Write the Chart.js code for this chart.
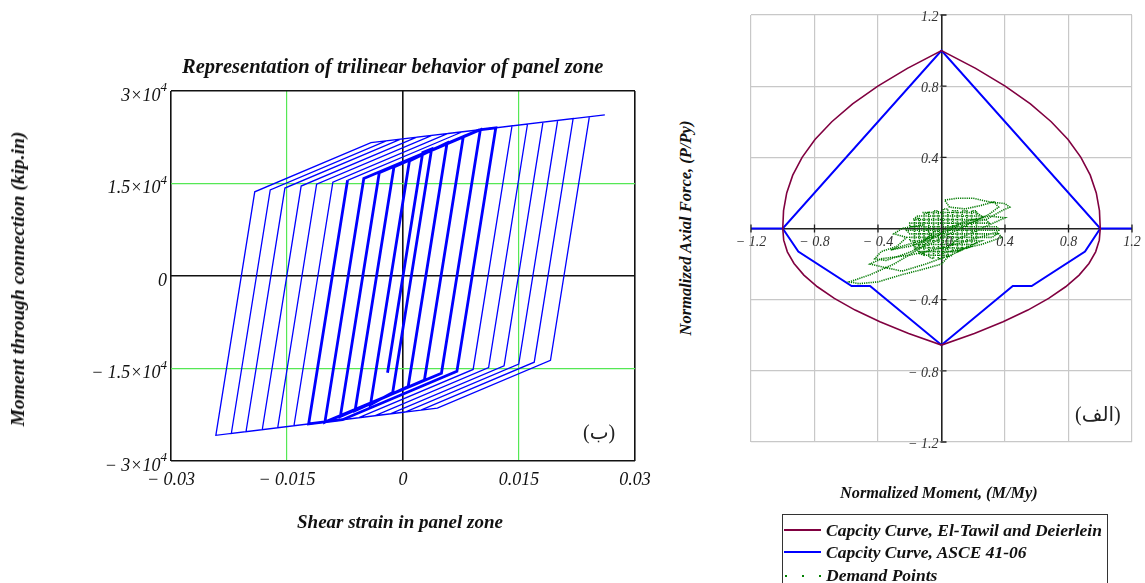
<!DOCTYPE html>
<html>
<head>
<meta charset="utf-8">
<script src="https://cdn.jsdelivr.net/npm/chart.js@4.4.0/dist/chart.umd.min.js"></script>
<style>
  body { margin: 0; background: #fff; width: 1145px; height: 583px; overflow: hidden; position: relative; font-family: "Liberation Serif", "DejaVu Serif", serif; }
  canvas { position: absolute; top: 0; }
  #left { left: 0; }
  #right { left: 700px; }
  .t { position: absolute; white-space: nowrap; font-style: italic; font-weight: bold; color: #111; }
  .rot { transform: translate(-50%, -50%) rotate(-90deg); }
  .mark { position: absolute; font-size: 20px; font-family: "Liberation Serif", "DejaVu Sans", serif; color: #222; }
  #legend { position: absolute; left: 782px; top: 514px; width: 324px; height: 80px; border: 1px solid #333; }
  .row { position: absolute; left: 0; height: 20px; }
  .sample { position: absolute; left: 1px; width: 37px; top: 9px; height: 2px; }
  .lab { position: absolute; left: 43px; top: 0; font-size: 17.5px; line-height: 20px; font-style: italic; font-weight: bold; white-space: nowrap; color: #111; }
  .dot { position: absolute; width: 2px; height: 2px; background: #008000; top: 10px; }
</style>
</head>
<body>
<canvas id="left" width="660" height="583"></canvas>
<canvas id="right" width="445" height="583"></canvas>

<div class="t" style="left:182px;top:54px;font-size:20.5px;line-height:24px;">Representation of trilinear behavior of panel zone</div>
<div class="t rot" style="left:18px;top:279px;font-size:19.5px;line-height:22px;">Moment through connection (kip.in)</div>
<div class="t" style="left:297px;top:511px;font-size:19px;line-height:22px;">Shear strain in panel zone</div>
<div class="mark" style="left:583px;top:420px;">(ب)</div>

<div class="t rot" style="left:686px;top:228px;font-size:16.5px;line-height:20px;">Normalized Axial Force, (P/Py)</div>
<div class="t" style="left:840px;top:483px;font-size:16.3px;line-height:20px;">Normalized Moment, (M/My)</div>
<div class="mark" style="left:1075px;top:402px;">(الف)</div>

<div id="legend">
  <div class="row" style="top:5px;"><div class="sample" style="background:#800040;"></div><div class="lab">Capcity Curve, El-Tawil and Deierlein</div></div>
  <div class="row" style="top:27px;"><div class="sample" style="background:#0000ff;"></div><div class="lab">Capcity Curve, ASCE 41-06</div></div>
  <div class="row" style="top:50px;"><div class="dot" style="left:2px;"></div><div class="dot" style="left:19px;"></div><div class="dot" style="left:36px;"></div><div class="lab">Demand Points</div></div>
</div>

<script>
// ---- panel zone hysteresis (left) ----
const strainTicks = [-0.03, -0.015, 0, 0.015, 0.03];
const strainTickLabels = ["\u2212 0.03", "\u2212 0.015", "0", "0.015", "0.03"];
const momentTicks = [30000, 15000, 0, -15000, -30000];
const momentTickLabels = [["3\u00d710", "4"], ["1.5\u00d710", "4"], ["0", ""], ["\u2212 1.5\u00d710", "4"], ["\u2212 3\u00d710", "4"]];

// small cycles (drawn heavy)
const strainInner = [0, 0.0020, -0.0020, 0.00255, 0.0037, -0.00133, -0.0042, 0.00083, 0.0057, 0.00067, -0.0062, -0.00117, 0.0078, 0.00277, -0.0081, -0.00307, 0.0100, 0.00497, -0.0101, -0.00507, 0.00986, 0.0120, 0.00697, -0.00783, -0.0122, -0.00717];
const momentInner = [0, 15700, -15700, 20030, 20613, -18887, -20858, 18642, 21593, -17907, -21838, 17662, 22622, -16878, -22769, 16731, 23720, -15780, -23700, 15800, 23713, 24033, -15467, -23311, -23987, 15513];

// large cycles
const strainOuter = [-0.00717, 0.00769, 0.0141, 0.00907, -0.0057, -0.0141, -0.00907, 0.00582, 0.0161, 0.01107, -0.00367, -0.0162, -0.01117, 0.00375, 0.0181, 0.01307, -0.00164, -0.0182, -0.01317, 0.00178, 0.0200, 0.01497, 0.00028, -0.0203, -0.01527, -0.0003, 0.0220, 0.01697, 0.00231, -0.0222, -0.01717, -0.00217, 0.0241, 0.01907, 0.00444, -0.0242, -0.01917, -0.00414, 0.0261];
const momentOuter = [15513, 23389, 24347, -15153, -22982, -24281, 15219, 23110, 24645, -14855, -22668, -24606, 14894, 22800, 24944, -14556, -22354, -24916, 14584, 22506, 25228, -14272, -22057, -25240, 14260, 22195, 25527, -13973, -21743, -25534, 13966, 21916, 25841, -13659, -21413, -25844, 13656, 21621, 26139];

// ---- P-M interaction (right) ----
const normTicks = [-1.2, -0.8, -0.4, 0, 0.4, 0.8, 1.2];
const normXLabels = ["\u2212 1.2", "\u2212 0.8", "\u2212 0.4", "0", "0.4", "0.8", "1.2"];
const normYLabels = ["\u2212 1.2", "\u2212 0.8", "\u2212 0.4", "", "0.4", "0.8", "1.2"];

const tawilM = [-1, -0.995, -0.975, -0.937, -0.878, -0.797, -0.691, -0.560, -0.401, -0.215, 0,
  0.215, 0.401, 0.560, 0.691, 0.797, 0.878, 0.937, 0.975, 0.995, 1,
  0.994, 0.971, 0.929, 0.867, 0.782, 0.675, 0.544, 0.388, 0.207, 0,
  -0.207, -0.388, -0.544, -0.675, -0.782, -0.867, -0.929, -0.971, -0.994, -1];
const tawilP = [0, 0.1, 0.2, 0.3, 0.4, 0.5, 0.6, 0.7, 0.8, 0.9, 1,
  0.9, 0.8, 0.7, 0.6, 0.5, 0.4, 0.3, 0.2, 0.1, 0,
  -0.0655, -0.131, -0.1965, -0.262, -0.3275, -0.393, -0.4585, -0.524, -0.5895, -0.655,
  -0.5895, -0.524, -0.4585, -0.393, -0.3275, -0.262, -0.1965, -0.131, -0.0655, 0];

const asceM = [-1.2, -1, 0, 1, 1.2, 1, 0.904, 0.568, 0.449, 0, -0.45, -0.566, -0.902, -1];
const asceP = [0, 0, 1, 0, 0, 0, -0.13, -0.323, -0.323, -0.655, -0.323, -0.323, -0.13, 0];

// demand path: dense core, then the looping excursions
const demandM = [-0.12, 0.22, 0.25, -0.15, -0.18, 0.28, 0.3, -0.2, -0.2, 0.35, 0.36, -0.22, -0.2, 0.35, 0.32, -0.2, -0.2, 0.25, 0.2, -0.18, -0.16, 0.15, 0.1, -0.14, -0.1, 0.06,
  0.22, 0.22, 0.19, 0.19, 0.16, 0.16, 0.13, 0.13, 0.1, 0.1, 0.07, 0.07, 0.04, 0.04, 0.01, 0.01, -0.02, -0.02, -0.05, -0.05, -0.08, -0.08, -0.11, -0.11, -0.14, -0.14, -0.17, -0.17,
  -0.05, 0.1, 0.28, 0.38, 0.43, 0.4, 0.3, 0.2, 0.1, 0.02, 0.05, 0.15, 0.25, 0.33, 0.36, 0.3, 0.18, 0.05, -0.08, -0.22, -0.35, -0.42, -0.38, -0.28, -0.22, -0.3, -0.25, -0.12,
  -0.05, -0.15, -0.3, -0.45, -0.58, -0.52, -0.4, -0.25, -0.12, 0, 0.05, -0.1, -0.25, -0.35, -0.45, -0.38, -0.2, 0, 0.2, 0.35, 0.38, 0.25, 0.1, 0,
  0.1, 0.25, 0.4, 0.3, 0.15, 0.02, -0.1, -0.25, -0.32, -0.2, -0.05, 0.1];
const demandP = [0.09, 0.09, 0.07, 0.07, 0.05, 0.05, 0.03, 0.03, 0.01, 0.01, -0.01, -0.01, -0.03, -0.03, -0.05, -0.05, -0.07, -0.07, -0.09, -0.09, -0.11, -0.11, -0.13, -0.13, -0.15, -0.15,
  -0.08, 0.1, 0.1, -0.1, -0.11, 0.1, 0.1, -0.12, -0.13, 0.1, 0.1, -0.15, -0.16, 0.11, 0.11, -0.17, -0.17, 0.1, 0.1, -0.17, -0.16, 0.09, 0.08, -0.15, -0.14, 0.06, 0.05, -0.12,
  -0.02, 0.02, 0.05, 0.1, 0.12, 0.14, 0.15, 0.17, 0.17, 0.16, 0.12, 0.11, 0.13, 0.15, 0.12, 0.08, 0.03, -0.03, -0.09, -0.14, -0.18, -0.17, -0.13, -0.1, -0.05, -0.03, 0, 0.02,
  -0.05, -0.12, -0.2, -0.26, -0.3, -0.31, -0.3, -0.26, -0.23, -0.2, -0.15, -0.2, -0.24, -0.22, -0.2, -0.17, -0.15, -0.11, -0.06, -0.02, -0.05, -0.09, -0.12, -0.14,
  -0.06, 0.0, 0.06, 0.07, 0.04, -0.01, -0.06, -0.1, -0.12, -0.1, -0.05, 0.01];

const pts = (xs, ys) => xs.map((x, i) => ({ x: x, y: ys[i] }));
const near = (a, b) => Math.abs(a - b) < 1e-9;

const leftLabels = {
  id: "leftLabels",
  afterDraw(chart) {
    const ctx = chart.ctx;
    const xs = chart.scales.x, ys = chart.scales.y;
    const area = chart.chartArea;
    ctx.save();
    ctx.fillStyle = "#111";
    ctx.textBaseline = "middle";
    ctx.font = "italic 18px 'Liberation Serif'";
    ctx.textAlign = "center";
    strainTicks.forEach((v, i) => {
      ctx.fillText(strainTickLabels[i], xs.getPixelForValue(v), area.bottom + 19);
    });
    momentTicks.forEach((v, i) => {
      const y = ys.getPixelForValue(v);
      const [main, sup] = momentTickLabels[i];
      const right = area.left - 4;
      ctx.font = "italic 13px 'Liberation Serif'";
      const sw = ctx.measureText(sup).width;
      ctx.textAlign = "right";
      if (sup) ctx.fillText(sup, right, y - 3);
      ctx.font = "italic 18px 'Liberation Serif'";
      ctx.fillText(main, right - sw, y + 5);
    });
    ctx.restore();
  }
};

new Chart(document.getElementById("left"), {
  type: "scatter",
  data: {
    datasets: [
      { data: pts(strainInner, momentInner), showLine: true, borderColor: "#0000ff", borderWidth: 2.8, pointRadius: 0 },
      { data: pts(strainOuter, momentOuter), showLine: true, borderColor: "#0000ff", borderWidth: 1.3, pointRadius: 0 }
    ]
  },
  options: {
    responsive: false,
    animation: false,
    layout: { padding: { left: 171, top: 91, right: 25, bottom: 122 } },
    plugins: { legend: { display: false }, tooltip: { enabled: false } },
    scales: {
      x: {
        type: "linear", min: -0.03, max: 0.03,
        afterBuildTicks: s => { s.ticks = strainTicks.map(v => ({ value: v })); },
        ticks: { display: false },
        border: { display: false },
        grid: {
          drawTicks: false,
          color: c => near(Math.abs(c.tick.value), 0.015) ? "#55e855" : "#111",
          lineWidth: c => near(Math.abs(c.tick.value), 0.015) ? 1.2 : 1.6
        }
      },
      y: {
        type: "linear", min: -30000, max: 30000,
        afterBuildTicks: s => { s.ticks = momentTicks.map(v => ({ value: v })); },
        ticks: { display: false },
        border: { display: false },
        grid: {
          drawTicks: false,
          color: c => Math.abs(c.tick.value) === 15000 ? "#55e855" : "#111",
          lineWidth: c => Math.abs(c.tick.value) === 15000 ? 1.2 : 1.6
        }
      }
    }
  },
  plugins: [leftLabels]
});

const rightLabels = {
  id: "rightLabels",
  afterDraw(chart) {
    const ctx = chart.ctx;
    const xs = chart.scales.x, ys = chart.scales.y;
    const ox = xs.getPixelForValue(0), oy = ys.getPixelForValue(0);
    ctx.save();
    ctx.strokeStyle = "#222";
    ctx.lineWidth = 1.3;
    normTicks.forEach(v => {
      const px = xs.getPixelForValue(v), py = ys.getPixelForValue(v);
      ctx.beginPath();
      ctx.moveTo(px, oy - 4); ctx.lineTo(px, oy + 4);
      ctx.moveTo(ox - 1, py); ctx.lineTo(ox + 5, py);
      ctx.stroke();
    });
    ctx.fillStyle = "#333";
    ctx.font = "italic 14px 'Liberation Serif'";
    ctx.textBaseline = "middle";
    ctx.textAlign = "center";
    normTicks.forEach((v, i) => {
      const px = xs.getPixelForValue(v) + (v === 0 ? 7 : 0);
      ctx.fillText(normXLabels[i], px, oy + 14);
    });
    ctx.textAlign = "right";
    normTicks.forEach((v, i) => {
      if (normYLabels[i]) ctx.fillText(normYLabels[i], ox - 3, ys.getPixelForValue(v) + 2);
    });
    ctx.restore();
  }
};

new Chart(document.getElementById("right"), {
  type: "scatter",
  data: {
    datasets: [
      { data: pts(tawilM, tawilP), showLine: true, borderColor: "#800040", borderWidth: 1.6, pointRadius: 0 },
      { data: pts(asceM, asceP), showLine: true, borderColor: "#0000ff", borderWidth: 2, pointRadius: 0 },
      { data: pts(demandM, demandP), showLine: true, borderColor: "#007a00", borderWidth: 1.6, borderDash: [1.2, 1], pointRadius: 0 }
    ]
  },
  options: {
    responsive: false,
    animation: false,
    layout: { padding: { left: 51, top: 15, right: 13, bottom: 141 } },
    plugins: { legend: { display: false }, tooltip: { enabled: false } },
    scales: {
      x: {
        type: "linear", min: -1.2, max: 1.2, position: { y: 0 },
        afterBuildTicks: s => { s.ticks = normTicks.map(v => ({ value: v })); },
        ticks: { display: false },
        border: { display: false },
        grid: {
          drawTicks: false,
          color: c => c.tick.value === 0 ? "#222" : "#c8c8c8",
          lineWidth: c => c.tick.value === 0 ? 1.6 : 1.2
        }
      },
      y: {
        type: "linear", min: -1.2, max: 1.2, position: { x: 0 },
        afterBuildTicks: s => { s.ticks = normTicks.map(v => ({ value: v })); },
        ticks: { display: false },
        border: { display: false },
        grid: {
          drawTicks: false,
          color: c => c.tick.value === 0 ? "#222" : "#c8c8c8",
          lineWidth: c => c.tick.value === 0 ? 1.6 : 1.2
        }
      }
    }
  },
  plugins: [rightLabels]
});
</script>
</body>
</html>
